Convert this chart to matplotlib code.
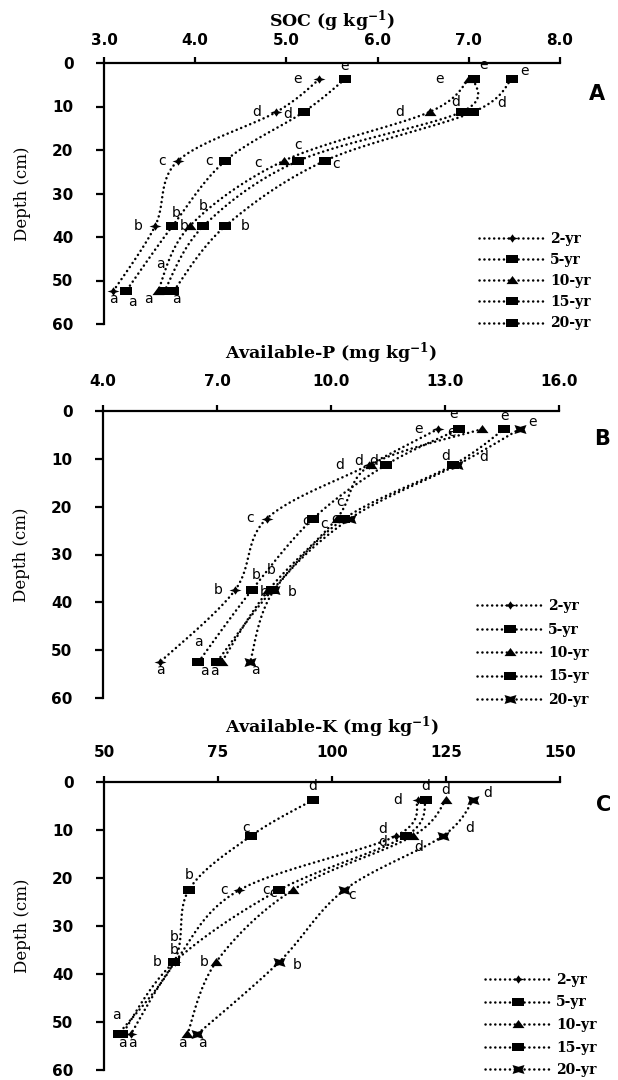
import numpy as np
import matplotlib
matplotlib.use("Agg")
import matplotlib.pyplot as plt
from matplotlib.lines import Line2D

plt.rcParams['mathtext.fontset'] = 'custom'
plt.rcParams['mathtext.rm'] = 'DejaVu Serif:bold'
plt.rcParams['mathtext.default'] = 'rm'

# ---------------- data ----------------
depths = [3.75, 11.25, 22.5, 37.5, 52.5]
series_names = ['2-yr', '5-yr', '10-yr', '15-yr', '20-yr']

# Panel A: SOC (g/kg)
soc_2 = [5.36, 4.89, 3.81, 3.56, 3.10]
soc_5 = [5.64, 5.19, 4.33, 3.75, 3.24]
soc_10 = [7.00, 6.57, 4.97, 3.94, 3.59]
soc_15 = [7.06, 6.92, 5.13, 4.09, 3.66]
soc_20 = [7.47, 7.05, 5.42, 4.33, 3.76]
soc_letters = ['edcba', 'edcba', 'edcba', 'edcba', 'edcba']

# Panel B: Available-P (mg/kg)
ap_2 = [12.82, 11.00, 8.31, 7.47, 5.50]
ap_5 = [13.38, 11.45, 9.53, 7.91, 6.51]
ap_10 = [13.98, 11.05, 10.15, 8.35, 7.12]
ap_15 = [14.56, 13.22, 10.35, 8.45, 6.99]
ap_20 = [14.97, 13.32, 10.50, 8.50, 7.87]
ap_letters = ['edcba', 'edcba', 'edcba', 'edcba', 'edcba']

# Panel C: Available-K (mg/kg)
ak_2 = [118.8, 114.0, 79.7, 65.6, 55.9]
ak_5 = [120.6, 116.2, 88.4, 65.4, 54.0]
ak_10 = [125.0, 117.7, 91.4, 74.6, 68.3]
ak_15 = [95.8, 82.2, 68.6, 65.4, 53.2]
ak_20 = [131.0, 124.3, 102.7, 88.4, 70.5]
ak_letters = ['ddcba', 'ddcba', 'ddcba', 'dcbba', 'ddcba']

soc_ticks = [3.0, 4.0, 5.0, 6.0, 7.0, 8.0]
ap_ticks = [4.0, 7.0, 10.0, 13.0, 16.0]
ak_ticks = [50, 75, 100, 125, 150]
depth_ticks = [0, 10, 20, 30, 40, 50, 60]

# ---------------- styling / layout ----------------
W, H = 618, 1080
fig = plt.figure(figsize=(W / 100, H / 100), dpi=100)

rect_m = [(-1, -0.67), (1, -0.67), (1, 0.67), (-1, 0.67), (-1, -0.67)]
tri_m = [(-1, -0.6), (1, -0.6), (0, 0.75), (-1, -0.6)]
star_m = [(-1, 0), (-0.35, 0.2), (0, 0.7), (0.35, 0.2), (1, 0), (0.35, -0.2),
          (0, -0.7), (-0.35, -0.2), (-1, 0)]
pinch_m = [(-1, -0.75), (0, -0.45), (1, -0.75), (0.7, 0), (1, 0.75), (0, 0.45),
           (-1, 0.75), (-0.7, 0), (-1, -0.75)]

mk_A = [(star_m, 12), (rect_m, 12.5), (tri_m, 12), (rect_m, 12.5), (rect_m, 12.5)]
mk_B = [(star_m, 12), (rect_m, 12.5), (tri_m, 12), (rect_m, 12.5), (pinch_m, 12)]

# offsets of significance letters (pixels: dx right, dy down)
off_A = [[(-22, 0), (-20, 0), (-16, 0), (-17, 0), (0, 8)],
         [(0, -13), (-16, 2), (-16, 0), (4, -13), (7, 11)],
         [(-29, 0), (-30, 0), (-26, 2), (-6, 0), (-9, 8)],
         [(9, -14), (-6, -10), (0, -16), (0, -20), (-4, -27)],
         [(13, -8), (28, -9), (11, 3), (20, 0), (3, 8)]]
off_B = [[(-20, 0), (-29, 0), (-17, -1), (-17, 0), (0, 8)],
         [(-6, -15), (-12, -4), (-7, 2), (5, -15), (0, -20)],
         [(-31, 3), (-12, -4), (3, -17), (3, -20), (-7, 9)],
         [(0, -13), (-8, -9), (-20, 5), (-8, 2), (-12, 9)],
         [(13, -7), (27, -8), (-15, 0), (18, 2), (5, 8)]]
off_C = [[(-20, 0), (-13, -7), (-15, 0), (-18, 0), (2, 9)],
         [(0, -14), (-23, 6), (-13, 0), (0, -25), (0, 9)],
         [(0, -10), (6, 11), (-20, 3), (-12, 0), (-5, 9)],
         [(0, -14), (-5, -8), (0, -15), (0, -12), (-2, -19)],
         [(14, -7), (27, -8), (8, 5), (18, 3), (5, 9)]]

panels = [
    dict(px=(104, 560, 63, 324), xlim=(3.0, 8.0), ticks=soc_ticks, fmt='{:.1f}',
         data=[soc_2, soc_5, soc_10, soc_15, soc_20], letters=soc_letters,
         offs=off_A, marks=mk_A, title='SOC (g kg$^{-1}$)', title_y=26,
         xpad=6.5, tag='A', tag_xy=(597, 94), leg=(479, 281, 0.52)),
    dict(px=(103, 559, 411, 698), xlim=(4.0, 16.0), ticks=ap_ticks, fmt='{:.1f}',
         data=[ap_2, ap_5, ap_10, ap_15, ap_20], letters=ap_letters,
         offs=off_B, marks=mk_B, title='Available-P (mg kg$^{-1}$)', title_y=358,
         xpad=12, tag='B', tag_xy=(602, 439), leg=(477, 653, 0.68)),
    dict(px=(104, 560, 782, 1070), xlim=(50, 150), ticks=ak_ticks, fmt='{:.0f}',
         data=[ak_2, ak_5, ak_10, ak_15, ak_20], letters=ak_letters,
         offs=off_C, marks=mk_B, title='Available-K (mg kg$^{-1}$)', title_y=732,
         xpad=12, tag='C', tag_xy=(604, 805), leg=(485, 1025, 0.62)),
]


def smooth(xs, ys, sx, sy, n=30):
    P = np.column_stack([np.asarray(xs, float) * sx, np.asarray(ys, float) * sy])
    pts = np.vstack([P[0], P, P[-1]])
    out = []
    t = np.linspace(0, 1, n)[:, None]
    for i in range(1, len(pts) - 2):
        p0, p1, p2, p3 = pts[i - 1], pts[i], pts[i + 1], pts[i + 2]
        c1 = p1 + (p2 - p0) / 6.0
        c2 = p2 - (p3 - p1) / 6.0
        seg = (1 - t) ** 3 * p1 + 3 * (1 - t) ** 2 * t * c1 + 3 * (1 - t) * t ** 2 * c2 + t ** 3 * p2
        out.append(seg if i == 1 else seg[1:])
    B = np.vstack(out)
    return B[:, 0] / sx, B[:, 1] / sy


dot = dict(color='black', lw=1.8, linestyle=(0, (0.05, 1.9)), dash_capstyle='round')
tickfont = dict(family='DejaVu Sans', weight='bold', size=11)

for p in panels:
    x0, x1, y0, y1 = p['px']
    ax = fig.add_axes([x0 / W, 1 - y1 / H, (x1 - x0) / W, (y1 - y0) / H])
    ax.set_xlim(*p['xlim'])
    ax.set_ylim(60, 0)
    sx = (x1 - x0) / (p['xlim'][1] - p['xlim'][0])
    sy = (y1 - y0) / 60.0
    handles = []
    for si, vals in enumerate(p['data']):
        cx, cy = smooth(vals, depths, sx, sy)
        ax.plot(cx, cy, **dot, zorder=2)
        m, ms = p['marks'][si]
        ax.plot(vals, depths, linestyle='none', marker=m, markersize=ms * 0.72,
                color='black', markeredgewidth=0, zorder=3, clip_on=False)
        for di, (v, d) in enumerate(zip(vals, depths)):
            dx, dy = p['offs'][si][di]
            ax.annotate(p['letters'][si][di], (v, d), xytext=(dx, -dy),
                        textcoords='offset pixels', ha='center', va='center',
                        fontsize=10, family='DejaVu Sans', color='black', zorder=4)
        handles.append(Line2D([], [], **dot, marker=m, markersize=ms * 0.72,
                              markerfacecolor='black', markeredgewidth=0))
    # axes styling
    for s in ['right', 'bottom']:
        ax.spines[s].set_visible(False)
    for s in ['top', 'left']:
        ax.spines[s].set_linewidth(1.6)
    ax.xaxis.set_ticks_position('top')
    ax.set_xticks(p['ticks'])
    ax.set_xticklabels([p['fmt'].format(v) for v in p['ticks']], fontdict=tickfont)
    ax.set_yticks(depth_ticks)
    ax.set_yticklabels([str(v) for v in depth_ticks], fontdict=tickfont)
    ax.tick_params(axis='x', direction='out', length=4, width=1.6, pad=p['xpad'])
    ax.tick_params(axis='y', direction='out', length=6, width=1.6, pad=16)
    ax.set_ylabel('Depth (cm)', family='DejaVu Serif', fontsize=12, labelpad=15)
    ax.patch.set_alpha(0)
    fig.text((x0 + x1) / 2 / W, 1 - p['title_y'] / H, p['title'], ha='center',
             va='baseline', family='DejaVu Serif', weight='bold', fontsize=12.5)
    fig.text(p['tag_xy'][0] / W, 1 - p['tag_xy'][1] / H, p['tag'], ha='center',
             va='center', family='DejaVu Sans', weight='bold', fontsize=15)
    lx, ly, lsp = p['leg']
    fig.legend(handles, series_names, loc='center left',
               bbox_to_anchor=(lx / W, 1 - ly / H), bbox_transform=fig.transFigure,
               frameon=False, numpoints=1, handlelength=4.7, handletextpad=0.4,
               labelspacing=lsp, borderpad=0, borderaxespad=0,
               prop=dict(family='DejaVu Serif', weight='bold', size=10))

fig.savefig('out.png', dpi=100)
